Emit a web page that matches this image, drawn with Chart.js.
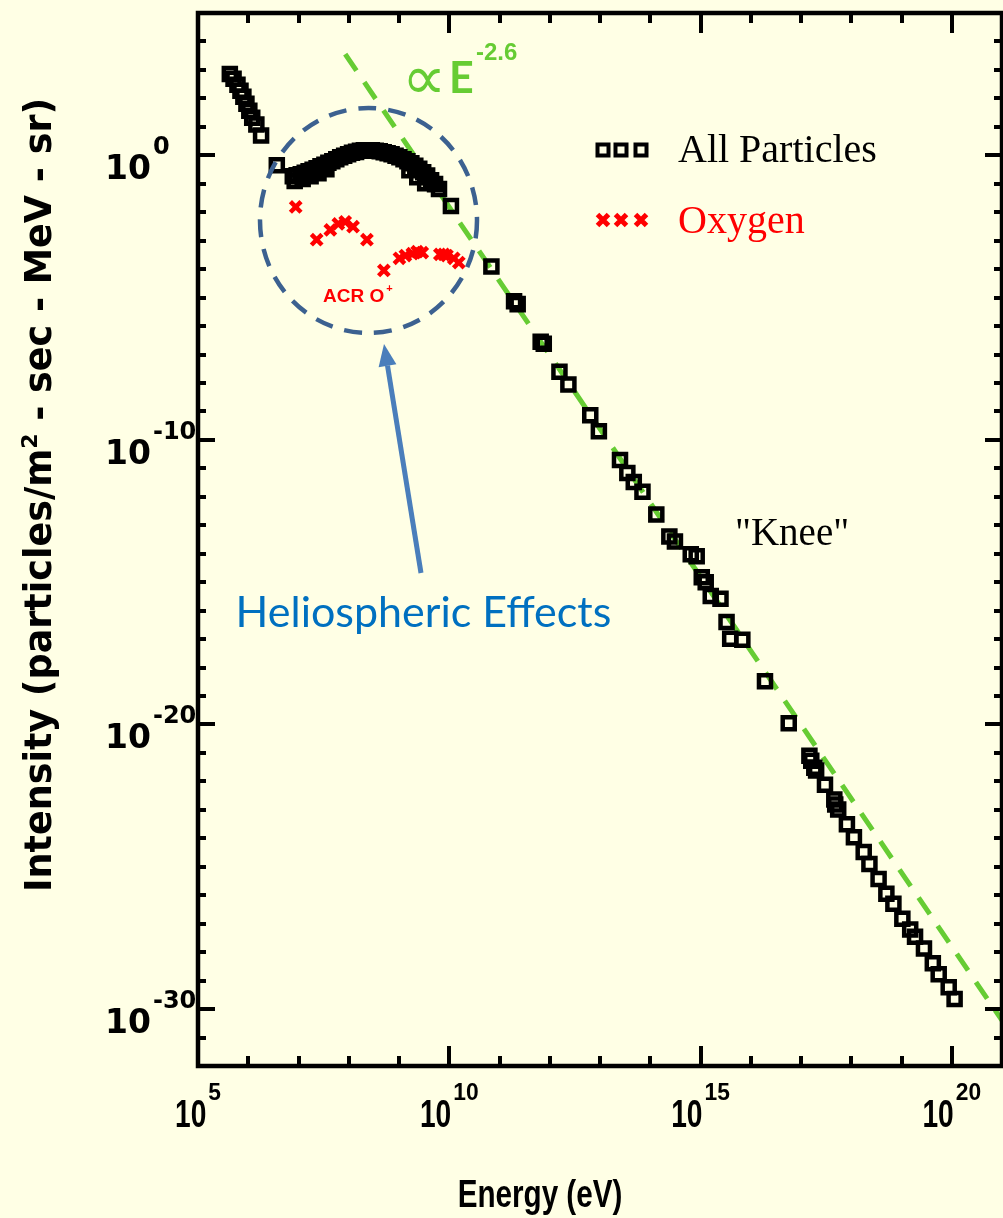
<!DOCTYPE html>
<html>
<head>
<meta charset="utf-8">
<script src="https://cdn.jsdelivr.net/npm/chart.js@4.4.1/dist/chart.umd.min.js"></script>
<style>
  html, body { margin: 0; padding: 0; background: #FFFFE5; overflow: hidden; }
</style>
</head>
<body>
<canvas id="chart" width="1015" height="1218"></canvas>
<script>
// All particles spectrum (eV, particles/m2-sec-MeV-sr)
const allEnergy = [4.3e5, 5.1e5, 6.1e5, 7.0e5, 8.0e5, 9.2e5, 1.05e6, 1.2e6, 1.45e6, 1.8e6, 3.7e6,
  7.7e6, 9.2e6, 1.11e7, 1.33e7, 1.59e7, 1.91e7, 2.29e7, 2.74e7, 3.28e7, 3.93e7, 4.71e7, 5.65e7,
  6.76e7, 8.11e7, 9.72e7, 1.16e8, 1.40e8, 1.67e8, 2.00e8, 2.40e8, 2.88e8, 3.45e8, 4.14e8, 4.96e8,
  5.94e8, 7.12e8, 8.54e8, 1.02e9, 1.23e9, 1.47e9, 1.76e9, 2.11e9, 2.53e9, 3.03e9, 3.63e9, 4.35e9,
  5.22e9, 6.25e9, 1.08e10,
  8.4e6, 1.21e7, 1.74e7, 2.5e7, 3.59e7, 1.61e9, 2.31e9, 3.32e9,
  6.9e10, 1.95e11, 2.3e11, 6.6e11, 7.6e11, 1.56e12, 2.35e12, 6.4e12, 9.5e12, 2.5e13,
  3.5e13, 4.7e13, 7.0e13, 1.32e14, 2.4e14, 3.1e14, 6.4e14, 8.4e14, 1.06e15, 1.27e15,
  1.6e15, 2.5e15, 3.3e15, 3.9e15, 6.8e15, 1.92e16, 5.7e16, 1.47e17, 1.6e17, 1.84e17,
  2.0e17, 3.0e17, 4.6e17, 4.8e17, 5.5e17, 8.2e17, 1.13e18, 1.77e18, 2.3e18, 3.5e18,
  5.0e18, 6.9e18, 1.04e19, 1.49e19, 1.86e19, 2.8e19, 4.2e19, 5.5e19, 8.7e19, 1.14e20];
const allIntensity = [7.2e2, 4.9e2, 3.0e2, 1.85e2, 1.14e2, 65, 37, 21, 12, 5.0, 0.45,
  0.185, 0.20, 0.217, 0.245, 0.277, 0.312, 0.352, 0.413, 0.466, 0.547, 0.618, 0.725,
  0.851, 0.961, 1.08, 1.22, 1.32, 1.44, 1.49, 1.49, 1.49, 1.44, 1.38, 1.27,
  1.17, 1.08, 0.96, 0.85, 0.725, 0.618, 0.526, 0.43, 0.338, 0.255, 0.193, 0.134,
  0.097, 0.065, 0.0166,
  0.124, 0.146, 0.185, 0.236, 0.325, 0.30, 0.171, 0.105,
  1.24e-4, 7.5e-6, 5.9e-6, 2.8e-7, 2.4e-7, 2.5e-8, 8.8e-9, 7.3e-10, 2.0e-10, 1.96e-11,
  6.9e-12, 3.3e-12, 1.5e-12, 2.4e-13, 4.0e-14, 2.7e-14, 9.5e-15, 8.1e-15, 1.5e-15, 1.0e-15,
  3.3e-16, 2.6e-16, 4.0e-17, 1.03e-17, 9.5e-18, 3.3e-19, 1.1e-20, 7.9e-22, 5.3e-22, 3.0e-22,
  2.4e-22, 7.7e-23, 2.3e-23, 1.55e-23, 1.03e-23, 3.1e-24, 1.09e-24, 3.3e-25, 1.25e-25, 3.7e-26,
  1.12e-26, 5.0e-27, 1.5e-27, 6.2e-28, 3.5e-28, 1.35e-28, 4.1e-29, 1.67e-29, 5.9e-30, 2.25e-30];

// Oxygen
const oxyEnergy = [8.8e6, 2.3e7, 4.3e7, 6.2e7, 8.5e7, 1.22e8, 2.3e8, 5.0e8, 1.02e9, 1.34e9,
  1.84e9, 2.3e9, 2.9e9, 6.5e9, 7.8e9, 9.0e9, 1.23e10, 1.55e10];
const oxyIntensity = [1.53e-2, 1.08e-3, 2.4e-3, 3.9e-3, 4.6e-3, 3.1e-3, 1.08e-3, 9.0e-5, 2.4e-4, 3.0e-4,
  3.5e-4, 4.1e-4, 3.8e-4, 3.3e-4, 3.3e-4, 3.0e-4, 2.4e-4, 1.7e-4];

// E^-2.6 guide line, end points
const fitEnergy = [8.5e7, 1e21];
const fitIntensity = [3.6e3, 4.0e-31];

// axis decades and labelled exponents
const xDecades = [5, 21];
const yDecades = [-32, 5];
const xLabelExps = ['5', '10', '15', '20'];
const yLabelExps = ['0', '-10', '-20', '-30'];

const toPts = (xs, ys) => xs.map((v, i) => ({ x: v, y: ys[i] }));

// text squeezed horizontally (narrow Helvetica look)
function narrowText(ctx, text, x, y, font, sx) {
  ctx.save();
  ctx.font = font;
  ctx.translate(x, y);
  ctx.scale(sx, 1);
  ctx.fillText(text, 0, 0);
  ctx.restore();
}
function narrowWidth(ctx, text, font, sx) {
  ctx.font = font;
  return ctx.measureText(text).width * sx;
}

const decor = {
  id: 'decor',
  beforeDraw(chart) {
    const ctx = chart.ctx;
    ctx.save();
    ctx.fillStyle = '#FFFFE5';
    ctx.fillRect(0, 0, chart.width, chart.height);
    ctx.restore();
  },
  afterDatasetsDraw(chart) {
    const ctx = chart.ctx;
    ctx.save();
    // dashed circle round the low energy part
    ctx.strokeStyle = '#3C6190';
    ctx.lineWidth = 4.5;
    ctx.setLineDash([18, 12]);
    ctx.beginPath();
    ctx.ellipse(368.5, 220.5, 108.5, 112.5, 0, 0, Math.PI * 2);
    ctx.stroke();
    ctx.setLineDash([]);

    // arrow
    const tail = [421, 573], tip = [384, 344];
    const dx = tip[0] - tail[0], dy = tip[1] - tail[1];
    const len = Math.hypot(dx, dy), ux = dx / len, uy = dy / len;
    const hl = 22, hw = 9;
    ctx.strokeStyle = '#4A7EBB';
    ctx.fillStyle = '#4A7EBB';
    ctx.lineWidth = 5;
    ctx.beginPath();
    ctx.moveTo(tail[0], tail[1]);
    ctx.lineTo(tip[0] - ux * hl, tip[1] - uy * hl);
    ctx.stroke();
    ctx.beginPath();
    ctx.moveTo(tip[0], tip[1]);
    ctx.lineTo(tip[0] - ux * hl - uy * hw, tip[1] - uy * hl + ux * hw);
    ctx.lineTo(tip[0] - ux * hl + uy * hw, tip[1] - uy * hl - ux * hw);
    ctx.closePath();
    ctx.fill();

    // text notes
    ctx.textBaseline = 'alphabetic';
    ctx.fillStyle = '#0070C0';
    ctx.font = '43px Lato, "Open Sans", sans-serif';
    ctx.textAlign = 'center';
    ctx.fillText('Heliospheric Effects', 423.5, 627);

    ctx.textAlign = 'left';
    ctx.fillStyle = '#FF0000';
    ctx.font = 'bold 19px "Liberation Sans", Arial, sans-serif';
    ctx.fillText('ACR O', 323, 302);
    const w = ctx.measureText('ACR O').width;
    ctx.font = 'bold 11px "Liberation Sans", Arial, sans-serif';
    ctx.fillText('+', 323 + w + 2, 292);

    ctx.fillStyle = '#000';
    ctx.font = '39px "Liberation Serif", "Times New Roman", serif';
    ctx.fillText('"Knee"', 735, 545);

    ctx.fillStyle = '#66CC33';
    ctx.font = '62px "DejaVu Sans", sans-serif';
    ctx.fillText('\u221D', 402, 99);
    ctx.font = 'bold 43px Lato, sans-serif';
    ctx.fillText('E', 449, 93);
    ctx.font = 'bold 24px "Liberation Sans", Arial, sans-serif';
    ctx.fillText('-2.6', 476, 60);
    ctx.restore();
  },
  afterDraw(chart) {
    const { ctx, chartArea: a, scales: { x, y } } = chart;
    ctx.save();
    ctx.strokeStyle = '#000';
    ctx.fillStyle = '#000';
    ctx.lineCap = 'butt';

    // frame
    ctx.lineWidth = 4.5;
    ctx.strokeRect(a.left, a.top, a.right - a.left, a.bottom - a.top);

    // inward ticks
    ctx.lineWidth = 4;
    ctx.beginPath();
    for (let e = xDecades[0] + 1; e < xDecades[1]; e++) {
      const px = Math.round(x.getPixelForValue(Math.pow(10, e)));
      const l = e % 5 === 0 ? 20 : 10;
      ctx.moveTo(px, a.bottom); ctx.lineTo(px, a.bottom - l);
      ctx.moveTo(px, a.top); ctx.lineTo(px, a.top + l);
    }
    for (let e = yDecades[0] + 1; e < yDecades[1]; e++) {
      const py = Math.round(y.getPixelForValue(Math.pow(10, e)));
      const l = e % 10 === 0 ? 17 : 8;
      ctx.moveTo(a.left, py); ctx.lineTo(a.left + l, py);
      ctx.moveTo(a.right, py); ctx.lineTo(a.right - l, py);
    }
    ctx.stroke();

    // x tick labels: 10 with exponent
    ctx.textBaseline = 'alphabetic';
    ctx.textAlign = 'left';
    const xBase = 'bold 38px "Liberation Sans", Arial, sans-serif';
    const xSup = 'bold 24px "Liberation Sans", Arial, sans-serif';
    xLabelExps.forEach(s => {
      const px = x.getPixelForValue(Math.pow(10, Number(s)));
      const w1 = narrowWidth(ctx, '10', xBase, 0.74);
      const w2 = narrowWidth(ctx, s, xSup, 0.95);
      const left = px - (w1 + 2 + w2) / 2;
      narrowText(ctx, '10', left, 1127, xBase, 0.74);
      narrowText(ctx, s, left + w1 + 2, 1100, xSup, 0.95);
    });

    // y tick labels
    const yBase = 'bold 33px "DejaVu Sans", sans-serif';
    const ySup = 'bold 24px "DejaVu Sans", sans-serif';
    yLabelExps.forEach(s => {
      const py = y.getPixelForValue(Math.pow(10, Number(s)));
      ctx.font = yBase; const w1 = ctx.measureText('10').width;
      ctx.fillText('10', 105, py + 24);
      ctx.font = ySup; ctx.fillText(s, 105 + w1 + 2, py - 1);
    });

    // axis titles
    const tFont = 'bold 38px "Liberation Sans", Arial, sans-serif';
    const tW = narrowWidth(ctx, 'Energy (eV)', tFont, 0.78);
    narrowText(ctx, 'Energy (eV)', 540 - tW / 2, 1207, tFont, 0.78);

    ctx.save();
    ctx.translate(51, 495);
    ctx.rotate(-Math.PI / 2);
    ctx.textAlign = 'left';
    const tf = 'bold 36.5px "DejaVu Sans", sans-serif';
    const sf = 'bold 22px "DejaVu Sans", sans-serif';
    const p1 = 'Intensity (particles/m', p2 = '2', p3 = ' - sec - MeV - sr)';
    ctx.font = tf; const a1 = ctx.measureText(p1).width, a3 = ctx.measureText(p3).width;
    ctx.font = sf; const a2 = ctx.measureText(p2).width;
    let sx = -(a1 + a2 + a3) / 2;
    ctx.font = tf; ctx.fillText(p1, sx, 0); sx += a1;
    ctx.font = sf; ctx.fillText(p2, sx, -14); sx += a2;
    ctx.font = tf; ctx.fillText(p3, sx, 0);
    ctx.restore();

    // legend
    ctx.textAlign = 'left';
    ctx.lineWidth = 4;
    [603, 621, 641].forEach(cx => ctx.strokeRect(cx - 5.5, 150 - 5.5, 11, 11));
    ctx.strokeStyle = '#FF0000';
    ctx.lineWidth = 5;
    ctx.beginPath();
    [603, 621, 641].forEach(cx => {
      ctx.moveTo(cx - 5.5, 214.5); ctx.lineTo(cx + 5.5, 225.5);
      ctx.moveTo(cx + 5.5, 214.5); ctx.lineTo(cx - 5.5, 225.5);
    });
    ctx.stroke();
    ctx.font = '40px "Liberation Serif", "Times New Roman", serif';
    ctx.fillStyle = '#000';
    ctx.fillText('All Particles', 678, 162);
    ctx.fillStyle = '#FF0000';
    ctx.fillText('Oxygen', 678, 233);
    ctx.restore();
  }
};

new Chart(document.getElementById('chart'), {
  type: 'scatter',
  data: {
    datasets: [
      {
        label: 'All Particles',
        data: toPts(allEnergy, allIntensity),
        pointStyle: 'rect',
        pointRadius: 8.5,
        pointBorderWidth: 4.5,
        pointBorderColor: '#000000',
        pointBackgroundColor: 'rgba(0,0,0,0)',
        showLine: false
      },
      {
        label: 'Oxygen',
        data: toPts(oxyEnergy, oxyIntensity),
        pointStyle: 'crossRot',
        pointRadius: 7.5,
        pointBorderWidth: 4.5,
        pointBorderColor: '#FF0000',
        showLine: false
      },
      {
        label: 'E^-2.6',
        data: toPts(fitEnergy, fitIntensity),
        showLine: true,
        pointRadius: 0,
        borderColor: '#66CC33',
        borderWidth: 5,
        borderDash: [20, 14]
      }
    ]
  },
  options: {
    responsive: false,
    animation: false,
    layout: { padding: { left: 198, top: 5, right: 3, bottom: 152 } },
    plugins: { legend: { display: false }, tooltip: { enabled: false } },
    scales: {
      x: { type: 'logarithmic', min: 1e5, max: 1e21, display: false },
      y: { type: 'logarithmic', min: 1e-32, max: 1e5, display: false }
    }
  },
  plugins: [decor]
});
</script>
</body>
</html>
